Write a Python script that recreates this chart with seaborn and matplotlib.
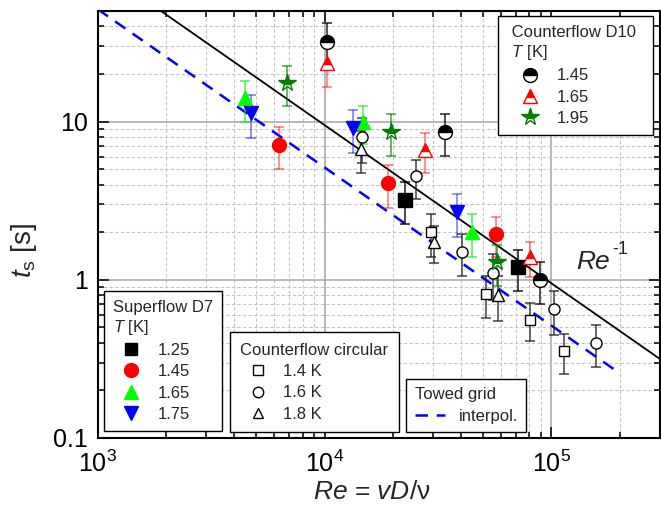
import matplotlib
matplotlib.use("Agg")
import matplotlib.pyplot as plt
import seaborn as sns
import numpy as np
from matplotlib.lines import Line2D
from matplotlib.ticker import LogLocator, FixedLocator, FixedFormatter, NullFormatter

# ---------------- data ----------------
# Superflow D7 (filled markers)
d7_125_re = [2.27e4, 7.14e4]
d7_125_t = [3.2, 1.2]
d7_125_err = [0.95, 0.35]
d7_145_re = [6.3e3, 1.91e4, 5.7e4]
d7_145_t = [7.1, 4.1, 1.94]
d7_145_err = [2.1, 1.25, 0.55]
d7_165_re = [4.45e3, 1.48e4, 4.48e4]
d7_165_t = [14.0, 9.9, 2.0]
d7_165_err = [4.0, 2.7, 0.6]
d7_175_re = [4.75e3, 1.33e4, 3.85e4]
d7_175_t = [11.3, 9.1, 2.67]
d7_175_err = [3.4, 2.8, 0.8]

# Counterflow D10 (half-filled markers)
d10_145_re = [1.02e4, 3.41e4, 8.9e4]
d10_145_t = [32.0, 8.6, 1.0]
d10_145_err = [10.0, 2.5, 0.3]
d10_165_re = [1.03e4, 2.78e4, 8.06e4]
d10_165_t = [23.5, 6.6, 1.39]
d10_165_err = [7.0, 1.9, 0.35]
d10_195_re = [6.8e3, 1.97e4, 5.77e4]
d10_195_t = [17.5, 8.6, 1.29]
d10_195_err = [5.0, 2.5, 0.38]

# Counterflow circular (open markers)
cc_14_re = [2.96e4, 5.16e4, 8.06e4, 1.14e5]
cc_14_t = [2.0, 0.81, 0.56, 0.355]
cc_14_err = [0.6, 0.24, 0.15, 0.1]
cc_16_re = [1.46e4, 2.54e4, 4.05e4, 5.54e4, 1.03e5, 1.57e5]
cc_16_t = [8.0, 4.5, 1.5, 1.1, 0.65, 0.40]
cc_16_err = [2.5, 1.25, 0.45, 0.35, 0.2, 0.12]
cc_18_re = [1.45e4, 3.05e4, 5.83e4]
cc_18_t = [6.7, 1.73, 0.80]
cc_18_err = [2.0, 0.45, 0.25]

# Lines
reinv_re = [1e3, 3e5]
reinv_t = [95.0, 0.3167]
towed_re = [1e3, 2.02e5]
towed_t = [51.3, 0.254]

xticks = [1e3, 1e4, 1e5]
xticklabels = ["$10^{3}$", "$10^{4}$", "$10^{5}$"]
yticks = [0.1, 1, 10]
yticklabels = ["0.1", "1", "10"]

# ---------------- style ----------------
sns.set_theme(style="ticks")
plt.rcParams["font.family"] = ["Liberation Sans", "DejaVu Sans"]
plt.rcParams["mathtext.fontset"] = "custom"
plt.rcParams["mathtext.rm"] = "Liberation Sans"
plt.rcParams["mathtext.it"] = "Liberation Sans:italic"
plt.rcParams["mathtext.bf"] = "Liberation Sans:bold"

fig = plt.figure(figsize=(6.61, 5.09), dpi=100)
ax = fig.add_axes([0.1478, 0.1395, 0.8502, 0.8389])
ax.set_xscale("log")
ax.set_yscale("log")
ax.set_xlim(1e3, 3e5)
ax.set_ylim(0.1, 50)

ax.grid(which="minor", color="#c4c4c4", lw=0.8, ls=(0, (3, 2)), zorder=0)
ax.grid(which="major", color="#a6a6a6", lw=1.1, ls="-", zorder=0)
ax.set_axisbelow(True)

# lines
sns.lineplot(x=reinv_re, y=reinv_t, ax=ax, color="black", lw=1.3, zorder=3)
sns.lineplot(x=towed_re, y=towed_t, ax=ax, color="#0000ff", lw=1.8, zorder=3,
             linestyle=(0, (5, 3.5)))

ms_big = 10
cap = 3.5
elw = 1.1


def eb(x, y, e, marker, mfc, mec, ecol, ealpha, ms=ms_big, fill=None, alt="white", z=5):
    ax.errorbar(x, y, yerr=e, fmt="none", ecolor=ecol, elinewidth=elw,
                capsize=cap, capthick=elw, alpha=ealpha, zorder=z - 1)
    kw = dict(marker=marker, ls="none", ms=ms, mfc=mfc, mec=mec, mew=1.0, zorder=z)
    if fill is not None:
        kw.update(fillstyle=fill, markerfacecoloralt=alt)
    ax.plot(x, y, **kw)


# counterflow circular (open)
eb(cc_14_re, cc_14_t, cc_14_err, "s", "white", "black", "#202020", 0.85, ms=7.5)
eb(cc_16_re, cc_16_t, cc_16_err, "o", "white", "black", "#202020", 0.85, ms=8)
eb(cc_18_re, cc_18_t, cc_18_err, "^", "white", "black", "#202020", 0.85, ms=8)

# superflow D7
eb(d7_125_re, d7_125_t, d7_125_err, "s", "black", "black", "black", 0.9, ms=9.5)
eb(d7_145_re, d7_145_t, d7_145_err, "o", "#ff0000", "#ff0000", "#ff0000", 0.55)
eb(d7_165_re, d7_165_t, d7_165_err, "^", "#00ff00", "#00ff00", "#00ee00", 0.7)
eb(d7_175_re, d7_175_t, d7_175_err, "v", "#0000ff", "#0000ff", "#0000ff", 0.55)

# counterflow D10 (half filled)
eb(d10_145_re, d10_145_t, d10_145_err, "o", "black", "black", "black", 0.85, fill="top")
eb(d10_165_re, d10_165_t, d10_165_err, "^", "#ff0000", "#ff0000", "#ff0000", 0.55, fill="top")
eb(d10_195_re, d10_195_t, d10_195_err, "*", "#008000", "#008000", "#008000", 0.75,
   ms=13, fill="top")

# axes styling
ax.xaxis.set_major_locator(FixedLocator(xticks))
ax.xaxis.set_major_formatter(FixedFormatter(xticklabels))
ax.xaxis.set_minor_locator(LogLocator(base=10, subs=np.arange(2, 10), numticks=20))
ax.xaxis.set_minor_formatter(NullFormatter())
ax.yaxis.set_major_locator(FixedLocator(yticks))
ax.yaxis.set_major_formatter(FixedFormatter(yticklabels))
ax.yaxis.set_minor_locator(LogLocator(base=10, subs=np.arange(2, 10), numticks=20))
ax.yaxis.set_minor_formatter(NullFormatter())
ax.tick_params(which="both", direction="in", top=True, right=True, width=1.1,
               colors="black")
ax.tick_params(which="major", length=8, labelsize=18, pad=7)
ax.tick_params(which="minor", length=4.5)
ax.tick_params(axis="x", which="major", pad=9)
for s in ax.spines.values():
    s.set_linewidth(1.5)
    s.set_color("black")

ax.set_xlabel("$Re$ = $vD$/ν", fontsize=19)
ax.set_ylabel("$t_\\mathrm{s}$ [s]", fontsize=20)
ax.xaxis.set_label_coords(0.487, -0.099)
ax.yaxis.set_label_coords(-0.105, 0.44)

ax.text(1.285e5, 1.168, "Re", fontsize=19, fontstyle="italic", ha="left",
        va="baseline", zorder=6)
ax.text(1.86e5, 1.45, "-1", fontsize=13, ha="left", va="baseline", zorder=6)

# legends
lfs = 12
common = dict(frameon=True, fancybox=False, framealpha=1, edgecolor="black",
              fontsize=lfs, title_fontsize=lfs, borderaxespad=0, alignment="left",
              labelspacing=0.38)

h10 = [Line2D([], [], marker="o", ls="none", ms=ms_big, mfc="black", mec="black",
              fillstyle="top", markerfacecoloralt="white"),
       Line2D([], [], marker="^", ls="none", ms=ms_big, mfc="#ff0000", mec="#ff0000",
              fillstyle="top", markerfacecoloralt="white"),
       Line2D([], [], marker="*", ls="none", ms=13, mfc="#008000", mec="#008000",
              fillstyle="top", markerfacecoloralt="white")]
leg1 = ax.legend(h10, ["1.45", "1.65", "1.95"], title=" Counterflow D10\n $T$ [K]",
                 loc="upper right", bbox_to_anchor=(0.7123, 0.688, 0.2758, 0.300),
                 mode="expand", handlelength=2.75, handletextpad=0.25,
                 borderpad=0.55, **common)
ax.add_artist(leg1)

h7 = [Line2D([], [], marker="s", ls="none", ms=9, mfc="black", mec="black"),
      Line2D([], [], marker="o", ls="none", ms=ms_big, mfc="#ff0000", mec="#ff0000"),
      Line2D([], [], marker="^", ls="none", ms=ms_big, mfc="#00ff00", mec="#00ff00"),
      Line2D([], [], marker="v", ls="none", ms=ms_big, mfc="#0000ff", mec="#0000ff")]
leg2 = ax.legend(h7, ["1.25", "1.45", "1.65", "1.75"], title="Superflow D7\n$T$ [K]",
                 loc="lower left", bbox_to_anchor=(0.011, 0.016), handlelength=2.2,
                 handletextpad=0.5, borderpad=0.55, **common)
ax.add_artist(leg2)

hc = [Line2D([], [], marker="s", ls="none", ms=7, mfc="white", mec="black"),
      Line2D([], [], marker="o", ls="none", ms=7.5, mfc="white", mec="black"),
      Line2D([], [], marker="^", ls="none", ms=7.5, mfc="white", mec="black")]
leg3 = ax.legend(hc, ["1.4 K", "1.6 K", "1.8 K"], title="Counterflow circular",
                 loc="lower left", bbox_to_anchor=(0.235, 0.014), handlelength=2.2,
                 handletextpad=0.4, borderpad=0.62, **common)
ax.add_artist(leg3)

ht = [Line2D([], [], color="#0000ff", lw=1.8, ls=(0, (5, 3.5)))]
leg4 = ax.legend(ht, ["interpol."], title="Towed grid",
                 loc="lower left", bbox_to_anchor=(0.549, 0.014), handlelength=1.8,
                 handletextpad=0.85, borderpad=0.5, **common)
for lg in (leg1, leg2, leg3, leg4):
    lg.get_frame().set_linewidth(1.0)
    lg.set_zorder(10)

fig.savefig("out.png", dpi=100)
